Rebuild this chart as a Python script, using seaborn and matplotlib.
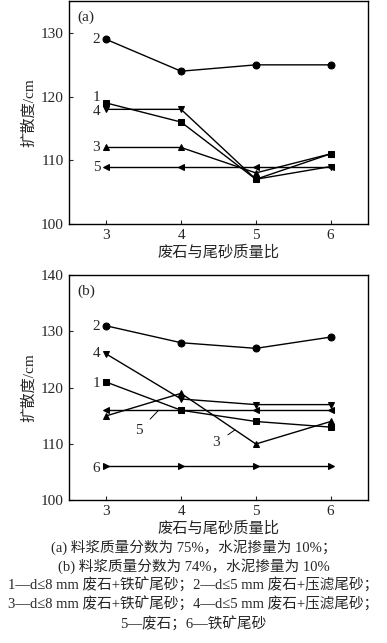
import matplotlib
matplotlib.use('Agg')
import matplotlib.pyplot as plt
import seaborn as sns
import pandas as pd

#########################
## data
ratio = [3, 4, 5, 6]

# (a) slurry 75 %
a_1 = [119, 116, 107, 111]
a_2 = [129, 124, 125, 125]
a_3 = [112, 112, 108, 111]
a_4 = [118, 118, 107, 109]
a_5 = [109, 109, 109, 109]

# (b) slurry 74 %
b_1 = [121, 116, 114, 113]
b_2 = [131, 128, 127, 129]
b_3 = [115, 119, 110, 114]
b_4 = [126, 118, 117, 117]
b_5 = [116, 116, 116, 116]
b_6 = [106, 106, 106, 106]

xlabel = '废石与尾砂质量比'
ylabel = '扩散度/cm'
caption = ['(a) 料浆质量分数为 75%，水泥掺量为 10%；',
           '(b) 料浆质量分数为 74%，水泥掺量为 10%',
           '1—d≤8 mm 废石+铁矿尾砂；2—d≤5 mm 废石+压滤尾砂；',
           '3—d≤8 mm 废石+铁矿尾砂；4—d≤5 mm 废石+压滤尾砂；',
           '5—废石；6—铁矿尾砂']

markers = {'1': 's', '2': 'o', '3': '^', '4': 'v', '5': '<', '6': '>'}

#########################
## style
sns.set_style('ticks')
plt.rcParams['font.family'] = ['Liberation Serif', 'Noto Sans CJK SC']
plt.rcParams['axes.unicode_minus'] = False


def long_form(series):
    rows = []
    for name, vals in series.items():
        for x, y in zip(ratio, vals):
            rows.append({'ratio': x, 'flow': y, 'curve': name})
    return pd.DataFrame(rows)


def draw(ax, series, ylim, yticks):
    df = long_form(series)
    names = list(series.keys())
    sns.lineplot(data=df, x='ratio', y='flow', hue='curve', style='curve',
                 markers={k: markers[k] for k in names}, dashes=False,
                 palette={k: 'black' for k in names}, markersize=5,
                 linewidth=1.0, markeredgecolor='black', legend=False, ax=ax)
    ax.set_xlim(2.5, 6.5)
    ax.set_ylim(*ylim)
    ax.set_xticks(ratio)
    ax.set_yticks(yticks)
    ax.tick_params(direction='in', labelsize=11, length=3, width=0.8)
    ax.set_xlabel(xlabel, fontsize=11, labelpad=2)
    ax.set_ylabel(ylabel, fontsize=11, labelpad=4)
    for s in ax.spines.values():
        s.set_visible(True)
        s.set_linewidth(1.0)
        s.set_color('black')


fig = plt.figure(figsize=(3.87, 6.43), dpi=100)
ax1 = fig.add_axes([0.178, 0.652, 0.773, 0.346])
ax2 = fig.add_axes([0.178, 0.222, 0.773, 0.350])

draw(ax1, {'1': a_1, '2': a_2, '3': a_3, '4': a_4, '5': a_5},
     (100, 135), [100, 110, 120, 130])
draw(ax2, {'1': b_1, '2': b_2, '3': b_3, '4': b_4, '5': b_5, '6': b_6},
     (100, 140), [100, 110, 120, 130, 140])

ax1.text(0.03, 0.96, '(a)', transform=ax1.transAxes, fontsize=11, va='top')
ax2.text(0.03, 0.96, '(b)', transform=ax2.transAxes, fontsize=11, va='top')

# curve labels (a)
for lab, y in [('2', 129), ('1', 119.8), ('4', 117.6), ('3', 112), ('5', 108.8)]:
    ax1.text(2.92, y, lab, ha='right', va='center', fontsize=11)

# curve labels (b)
for lab, y in [('2', 130.9), ('4', 126), ('1', 120.8), ('6', 105.6)]:
    ax2.text(2.92, y, lab, ha='right', va='center', fontsize=11)
ax2.annotate('5', xy=(3.70, 116), xytext=(3.44, 112.4), fontsize=11,
             ha='center', va='center',
             arrowprops=dict(arrowstyle='-', lw=0.7, color='black',
                             shrinkA=4, shrinkB=0))
ax2.annotate('3', xy=(4.72, 112.5), xytext=(4.47, 110.2), fontsize=11,
             ha='center', va='center',
             arrowprops=dict(arrowstyle='-', lw=0.7, color='black',
                             shrinkA=4, shrinkB=0))

# caption
cy = [0.149, 0.120, 0.090, 0.060, 0.030]
for t, y in zip(caption, cy):
    fig.text(0.5, y, t, ha='center', va='center', fontsize=10.5)

fig.savefig('out.png', dpi=100)
